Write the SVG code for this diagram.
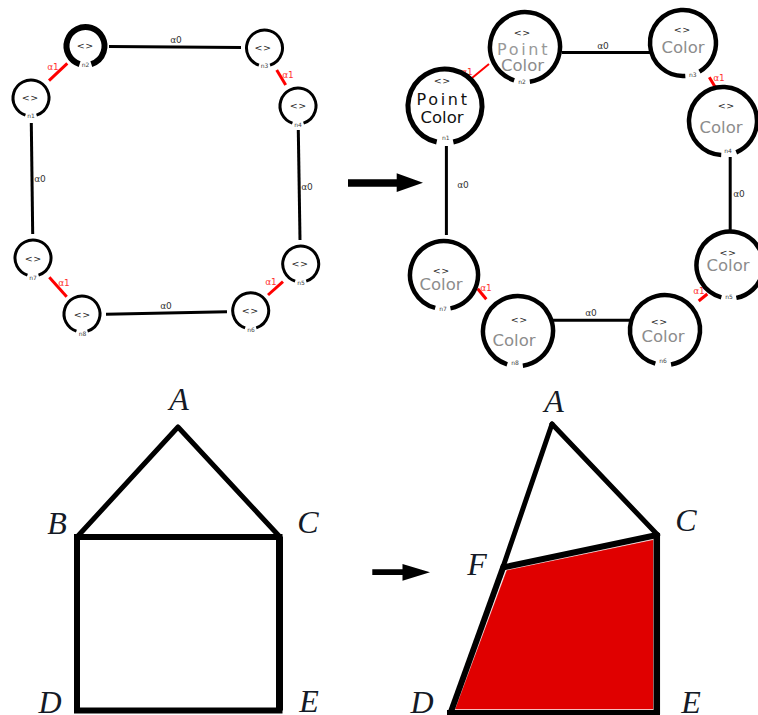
<svg xmlns="http://www.w3.org/2000/svg" width="758" height="715" viewBox="0 0 758 715">
<style>
text{font-family:"DejaVu Sans","Liberation Sans",sans-serif;text-anchor:middle}
.ring{fill:none;stroke:#000}
.s{stroke-width:3;stroke-dasharray:324 36}
.b{stroke-width:6;stroke-dasharray:324 36}
.r{stroke-width:4.5;stroke-dasharray:334 26}
.r5{stroke-width:5}
.e{fill:none;stroke:#000;stroke-linecap:butt}
.red{stroke:#f00}
.w3{stroke-width:3}.w2{stroke-width:2}
.el{font-size:9px;fill:#333}
.rl{font-size:9px;fill:#f33}
.ar{font-size:9.5px;fill:#222;letter-spacing:.5px}
.n{font-size:6px;fill:#444}
.pk{font-size:16px;fill:#111;letter-spacing:2.7px}
.ck{font-size:16.5px;fill:#111}
.pg{font-size:16px;fill:#999;letter-spacing:2.7px}
.cg{font-size:16.5px;fill:#8c8c8c}
.geo{font-family:"Liberation Serif",serif;font-style:italic;font-size:32px;fill:#141a26}
.g{fill:none;stroke:#000;stroke-linecap:round;stroke-linejoin:round}
</style>

<g id="connectors">
  <line class="e w3 red" x1="49" y1="80.7" x2="67.3" y2="63.3"/>
  <line class="e w3" x1="109" y1="46.6" x2="241" y2="47.4"/>
  <line class="e w3 red" x1="276.7" y1="70" x2="285.7" y2="85"/>
  <line class="e w3" x1="298.3" y1="130" x2="300" y2="240"/>
  <line class="e w3 red" x1="283" y1="281.7" x2="268" y2="295"/>
  <line class="e w3" x1="106" y1="314.3" x2="227" y2="311.7"/>
  <line class="e w3 red" x1="49.3" y1="277.3" x2="66.7" y2="296.7"/>
  <line class="e w3" x1="31.3" y1="123" x2="32.7" y2="234"/>
  <text class="rl" x="53" y="70">α1</text>
  <text class="el" x="176" y="43">α0</text>
  <text class="rl" x="288" y="78">α1</text>
  <text class="el" x="307" y="190">α0</text>
  <text class="rl" x="271" y="285">α1</text>
  <text class="el" x="166" y="309">α0</text>
  <text class="rl" x="64" y="286">α1</text>
  <text class="el" x="40" y="182">α0</text>

  <line class="e w2 red" x1="471.7" y1="78.3" x2="489" y2="64"/>
  <line class="e w3" x1="562" y1="52.5" x2="651" y2="52.5"/>
  <line class="e w3 red" x1="709.3" y1="77.3" x2="715.3" y2="87.3"/>
  <line class="e w3" x1="730.2" y1="157" x2="730.2" y2="230"/>
  <line class="e w3 red" x1="707.3" y1="294" x2="698.7" y2="301"/>
  <line class="e w3" x1="552.7" y1="320.3" x2="630" y2="320.3"/>
  <line class="e w3 red" x1="477.7" y1="288.7" x2="486.3" y2="299.3"/>
  <line class="e w3" x1="446.4" y1="146" x2="446.4" y2="235"/>
  <text class="rl" x="467" y="75">α1</text>
  <text class="el" x="603" y="49">α0</text>
  <text class="rl" x="719" y="81">α1</text>
  <text class="el" x="739" y="197">α0</text>
  <text class="rl" x="699" y="294">α1</text>
  <text class="el" x="591" y="316">α0</text>
  <text class="rl" x="486" y="291">α1</text>
  <text class="el" x="463" y="188">α0</text>
</g>

<g id="L-n1"><circle class="ring s" r="18" pathLength="360" transform="translate(31 98) rotate(108)"/><text class="ar" x="30.3" y="100.5">&lt;&gt;</text><text class="n" x="31" y="118">n1</text></g>
<g id="L-n2"><circle class="ring b" r="19" pathLength="360" transform="translate(85.5 46) rotate(108)"/><text class="ar" x="85.3" y="49">&lt;&gt;</text><text class="n" x="85.5" y="66.5">n2</text></g>
<g id="L-n3"><circle class="ring s" r="18" pathLength="360" transform="translate(264.5 48) rotate(108)"/><text class="ar" x="263" y="50.5">&lt;&gt;</text><text class="n" x="264.5" y="67.5">n3</text></g>
<g id="L-n4"><circle class="ring s" r="18" pathLength="360" transform="translate(298 106) rotate(108)"/><text class="ar" x="298.3" y="108.5">&lt;&gt;</text><text class="n" x="298" y="126.5">n4</text></g>
<g id="L-n5"><circle class="ring s" r="18" pathLength="360" transform="translate(300.7 264) rotate(108)"/><text class="ar" x="300" y="267">&lt;&gt;</text><text class="n" x="301" y="285">n5</text></g>
<g id="L-n6"><circle class="ring s" r="18" pathLength="360" transform="translate(250.7 310.7) rotate(108)"/><text class="ar" x="250.3" y="313.5">&lt;&gt;</text><text class="n" x="251" y="331.5">n6</text></g>
<g id="L-n7"><circle class="ring s" r="18" pathLength="360" transform="translate(33 258) rotate(108)"/><text class="ar" x="33.3" y="261.5">&lt;&gt;</text><text class="n" x="33" y="279.5">n7</text></g>
<g id="L-n8"><circle class="ring s" r="18" pathLength="360" transform="translate(82 314) rotate(108)"/><text class="ar" x="82.3" y="317.5">&lt;&gt;</text><text class="n" x="82.5" y="335.5">n8</text></g>

<g id="R-n1"><circle class="ring r r5" r="37" pathLength="360" transform="translate(445 106) rotate(103)"/><text class="ar" x="442.3" y="83.5">&lt;&gt;</text><text class="pk" x="443" y="105">Point</text><text class="ck" x="442" y="123">Color</text><text class="n" x="445.7" y="140">n1</text></g>
<g id="R-n2"><circle class="ring r" r="35" pathLength="360" transform="translate(525 47) rotate(108)"/><text class="ar" x="522.3" y="35.5">&lt;&gt;</text><text class="pg" x="523.5" y="55">Point</text><text class="cg" x="522.5" y="71">Color</text><text class="n" x="522" y="84">n2</text></g>
<g id="R-n3"><circle class="ring r" r="33" pathLength="360" transform="translate(683 43) rotate(86)"/><text class="ar" x="682.3" y="32.5">&lt;&gt;</text><text class="cg" x="683" y="53">Color</text><text class="n" x="692.7" y="77">n3</text></g>
<g id="R-n4"><circle class="ring r" r="34" pathLength="360" transform="translate(723 121) rotate(93)"/><text class="ar" x="726.3" y="108.5">&lt;&gt;</text><text class="cg" x="721" y="133">Color</text><text class="n" x="728" y="153">n4</text></g>
<g id="R-n5"><circle class="ring r" r="33.5" pathLength="360" transform="translate(730 265) rotate(105)"/><text class="ar" x="728" y="255.5">&lt;&gt;</text><text class="cg" x="728" y="271">Color</text><text class="n" x="729" y="299">n5</text></g>
<g id="R-n6"><circle class="ring r" r="35" pathLength="360" transform="translate(665 330) rotate(106)"/><text class="ar" x="659.3" y="324.5">&lt;&gt;</text><text class="cg" x="663" y="341.7">Color</text><text class="n" x="663" y="363">n6</text></g>
<g id="R-n7"><circle class="ring r" r="34" pathLength="360" transform="translate(444 275) rotate(105)"/><text class="ar" x="441.3" y="273.5">&lt;&gt;</text><text class="cg" x="441" y="289.5">Color</text><text class="n" x="443" y="311">n7</text></g>
<g id="R-n8"><circle class="ring r" r="35" pathLength="360" transform="translate(518 331) rotate(108)"/><text class="ar" x="519.3" y="322.5">&lt;&gt;</text><text class="cg" x="514" y="345.7">Color</text><text class="n" x="515" y="365">n8</text></g>

<polygon id="arrow-top" fill="#000" points="348,179.3 396.7,179.3 396.7,173.3 423,182.8 396.7,192 396.7,186.7 348,186.7"/>
<polygon id="arrow-bottom" fill="#000" points="372.3,569.3 402.5,569.3 402.5,564 430,572.3 402.5,580.7 402.5,575 372.3,575"/>

<g id="house">
  <path class="g" stroke-width="5" d="M77 537 178 427 280 537"/>
  <rect x="77" y="537" width="202.5" height="173.5" fill="none" stroke="#000" stroke-width="6"/>
  <line x1="279.5" y1="537" x2="279.5" y2="710.5" stroke="#000" stroke-width="7"/>
  <text class="geo" x="179" y="410">A</text>
  <text class="geo" x="57" y="534">B</text>
  <text class="geo" x="308" y="533">C</text>
  <text class="geo" x="50" y="713">D</text>
  <text class="geo" x="309" y="712">E</text>
</g>

<g id="folded">
  <polygon points="506.5,570 653.5,539.5 653.5,709.5 454.7,709.5" fill="#e00000" stroke="#fff" stroke-width="0.5"/>
  <path class="g" stroke-width="5" d="M552 424 657.7 535"/>
  <path class="g" stroke-width="5" d="M552 424 503 567"/>
  <line x1="504" y1="565" x2="450.5" y2="713" stroke="#000" stroke-width="6"/>
  <path class="g" stroke-width="6" d="M505 567 657 535"/>
  <line x1="656.8" y1="533" x2="656.8" y2="714" stroke="#000" stroke-width="6.5"/>
  <line x1="447" y1="712.5" x2="660" y2="712.5" stroke="#000" stroke-width="5"/>
  <text class="geo" x="554" y="412">A</text>
  <text class="geo" x="686" y="530.7">C</text>
  <text class="geo" x="477" y="575">F</text>
  <text class="geo" x="422" y="712.7">D</text>
  <text class="geo" x="691" y="713">E</text>
</g>
</svg>
